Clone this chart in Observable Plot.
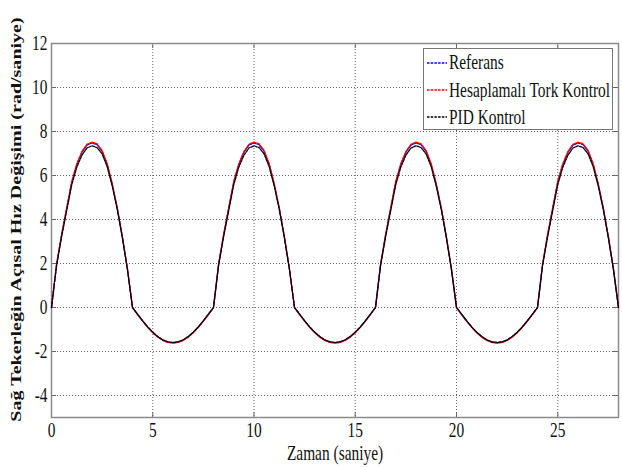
<!DOCTYPE html>
<html>
<head>
<meta charset="utf-8">
<script src="https://cdn.jsdelivr.net/npm/d3@7"></script>
<script src="https://cdn.jsdelivr.net/npm/@observablehq/plot@0.6"></script>
<style>
  html, body { margin: 0; padding: 0; background: #fff; }
  #wrap { position: relative; width: 622px; height: 467px; overflow: hidden; }
  #wrap svg text { font-family: "Liberation Serif", "Times New Roman", serif; }
  #legend { position: absolute; left: 423px; top: 48px; width: 190px; height: 82px;
            border: 1px solid #777; background: #fff; box-sizing: border-box;
            font-family: "Liberation Serif", serif; font-size: 15.4px; color: #111; }
  .row { position: absolute; left: 3px; height: 20px; display: flex; align-items: center; }
  .row svg { margin-right: 2px; }
  .row span { display: inline-block; transform: scaleY(1.3); white-space: nowrap; }
</style>
</head>
<body>
<div id="wrap"><div id="legend"></div></div>
<script>
// sampling times (s)
const time = d3.range(0, 28.001, 0.25);

// Referans
const refValues = [
  0, 1.95, 3.3, 4.5, 5.7, 6.5, 7.05, 7.38, 7.48, 7.4, 7.1, 6.5, 5.6, 4.5, 3.2, 1.75,
  0, -0.31, -0.61, -0.89, -1.13, -1.33, -1.48, -1.57, -1.6, -1.57, -1.48, -1.33, -1.13, -0.89, -0.61, -0.31,
  0, 1.95, 3.3, 4.5, 5.7, 6.5, 7.05, 7.38, 7.48, 7.4, 7.1, 6.5, 5.6, 4.5, 3.2, 1.75,
  0, -0.31, -0.61, -0.89, -1.13, -1.33, -1.48, -1.57, -1.6, -1.57, -1.48, -1.33, -1.13, -0.89, -0.61, -0.31,
  0, 1.95, 3.3, 4.5, 5.7, 6.5, 7.05, 7.38, 7.48, 7.4, 7.1, 6.5, 5.6, 4.5, 3.2, 1.75,
  0, -0.31, -0.61, -0.89, -1.13, -1.33, -1.48, -1.57, -1.6, -1.57, -1.48, -1.33, -1.13, -0.89, -0.61, -0.31,
  0, 1.95, 3.3, 4.5, 5.7, 6.5, 7.05, 7.38, 7.48, 7.4, 7.1, 6.5, 5.6, 4.5, 3.2, 1.75,
  0
];
// Hesaplamalı Tork Kontrol
const htkValues = [
  0, 1.97, 3.33, 4.53, 5.73, 6.54, 7.09, 7.42, 7.52, 7.44, 7.14, 6.54, 5.63, 4.52, 3.22, 1.76,
  0, -0.32, -0.62, -0.9, -1.15, -1.35, -1.5, -1.59, -1.62, -1.59, -1.5, -1.35, -1.15, -0.9, -0.62, -0.32,
  0, 1.97, 3.33, 4.53, 5.73, 6.54, 7.09, 7.42, 7.52, 7.44, 7.14, 6.54, 5.63, 4.52, 3.22, 1.76,
  0, -0.32, -0.62, -0.9, -1.15, -1.35, -1.5, -1.59, -1.62, -1.59, -1.5, -1.35, -1.15, -0.9, -0.62, -0.32,
  0, 1.97, 3.33, 4.53, 5.73, 6.54, 7.09, 7.42, 7.52, 7.44, 7.14, 6.54, 5.63, 4.52, 3.22, 1.76,
  0, -0.32, -0.62, -0.9, -1.15, -1.35, -1.5, -1.59, -1.62, -1.59, -1.5, -1.35, -1.15, -0.9, -0.62, -0.32,
  0, 1.97, 3.33, 4.53, 5.73, 6.54, 7.09, 7.42, 7.52, 7.44, 7.14, 6.54, 5.63, 4.52, 3.22, 1.76,
  0
];
// PID Kontrol
const pidValues = [
  0, 1.9, 3.22, 4.4, 5.58, 6.38, 6.92, 7.25, 7.35, 7.27, 6.98, 6.4, 5.52, 4.45, 3.17, 1.73,
  0, -0.3, -0.6, -0.88, -1.12, -1.32, -1.47, -1.56, -1.59, -1.56, -1.47, -1.32, -1.12, -0.88, -0.6, -0.3,
  0, 1.9, 3.22, 4.4, 5.58, 6.38, 6.92, 7.25, 7.35, 7.27, 6.98, 6.4, 5.52, 4.45, 3.17, 1.73,
  0, -0.3, -0.6, -0.88, -1.12, -1.32, -1.47, -1.56, -1.59, -1.56, -1.47, -1.32, -1.12, -0.88, -0.6, -0.3,
  0, 1.9, 3.22, 4.4, 5.58, 6.38, 6.92, 7.25, 7.35, 7.27, 6.98, 6.4, 5.52, 4.45, 3.17, 1.73,
  0, -0.3, -0.6, -0.88, -1.12, -1.32, -1.47, -1.56, -1.59, -1.56, -1.47, -1.32, -1.12, -0.88, -0.6, -0.3,
  0, 1.9, 3.22, 4.4, 5.58, 6.38, 6.92, 7.25, 7.35, 7.27, 6.98, 6.4, 5.52, 4.45, 3.17, 1.73,
  0
];

const xTicks = [0, 5, 10, 15, 20, 25];
const yTicks = [-4, -2, 0, 2, 4, 6, 8, 10, 12];
const xGrid = [5, 10, 15, 20, 25];
const yGrid = [-4, -2, 0, 2, 4, 6, 8, 10];
const seriesNames = ["Referans", "Hesaplamalı Tork Kontrol", "PID Kontrol"];
const seriesColors = ["#0000ff", "#ff0000", "#000000"];
const xLabel = "Zaman (saniye)";
const yLabel = "Sağ Tekerleğin Açısal Hız Değişimi (rad/saniye)";

const table = time.map((t, i) => ({t, ref: refValues[i], htk: htkValues[i], pid: pidValues[i]}));

const W = 622, H = 467, mT = 43, mB = 50, mL = 51, mR = 4;
const innerH = H - mT - mB, innerW = W - mL - mR;
const tickLen = 5;
const fmt = d => String(d);

const chart = Plot.plot({
  width: W, height: H,
  marginTop: mT, marginBottom: mB, marginLeft: mL, marginRight: mR,
  style: {fontFamily: "'Liberation Serif', serif", fontSize: "15.4px", color: "#111", background: "#fff"},
  x: {domain: [0, 28]},
  y: {domain: [-5, 12]},
  marks: [
    Plot.gridX(xGrid, {stroke: "#333", strokeOpacity: 0.75, strokeDasharray: "1,2"}),
    Plot.gridY(yGrid, {stroke: "#333", strokeOpacity: 0.75, strokeDasharray: "1,2"}),
    // inner tick marks (bottom, top, left, right)
    Plot.tickX(xTicks, {x: d => d, insetTop: innerH - tickLen, stroke: "#666"}),
    Plot.tickX(xTicks, {x: d => d, insetBottom: innerH - tickLen, stroke: "#666"}),
    Plot.tickY(yTicks, {y: d => d, insetRight: innerW - tickLen, stroke: "#666"}),
    Plot.tickY(yTicks, {y: d => d, insetLeft: innerW - tickLen, stroke: "#666"}),
    Plot.frame({stroke: "#8a8a8a", strokeWidth: 1.5}),
    Plot.line(table, {x: "t", y: "ref", stroke: seriesColors[0], strokeWidth: 1.3, strokeDasharray: "2.5,1.2"}),
    Plot.line(table, {x: "t", y: "htk", stroke: seriesColors[1], strokeWidth: 1.3, strokeDasharray: "2.5,1.2"}),
    Plot.line(table, {x: "t", y: "pid", stroke: seriesColors[2], strokeWidth: 1.3, strokeDasharray: "2.5,1.2"}),
    Plot.axisX(xTicks, {tickSize: 0, tickPadding: 5, label: null, fill: "#111", tickFormat: fmt}),
    Plot.axisY(yTicks, {tickSize: 0, tickPadding: 4, label: null, fill: "#111", tickFormat: fmt}),
    Plot.text([xLabel], {frameAnchor: "bottom", lineAnchor: "middle", textAnchor: "middle", dy: 36, fill: "#111"}),
    Plot.text([yLabel], {frameAnchor: "left", lineAnchor: "middle", textAnchor: "middle", rotate: -90, dx: -35, dy: -11, fontWeight: "bold", fill: "#111"})
  ]
});

// stretch the text vertically on screen, like the reference figure
chart.querySelectorAll("text").forEach(el => {
  const x = +el.getAttribute("x") || 0, y = +el.getAttribute("y") || 0;
  const tr = el.getAttribute("transform") || "";
  const rotated = /rotate\(/.test(tr);
  const s = rotated ? "scale(1.3,1)" : "scale(1,1.3)";
  el.setAttribute("transform", `${tr} translate(${x},${y}) ${s} translate(${-x},${-y})`);
});

const wrap = document.getElementById("wrap");
wrap.insertBefore(chart, wrap.firstChild);

const legend = document.getElementById("legend");
seriesNames.forEach((name, i) => {
  const row = document.createElement("div");
  row.className = "row";
  row.style.top = (4 + i * 27) + "px";
  row.innerHTML = `<svg width="20" height="4"><line x1="0" y1="2" x2="20" y2="2" stroke="${seriesColors[i]}" stroke-width="1.3" stroke-dasharray="2.5,1.2"/></svg><span>${name}</span>`;
  legend.appendChild(row);
});
</script>
</body>
</html>
